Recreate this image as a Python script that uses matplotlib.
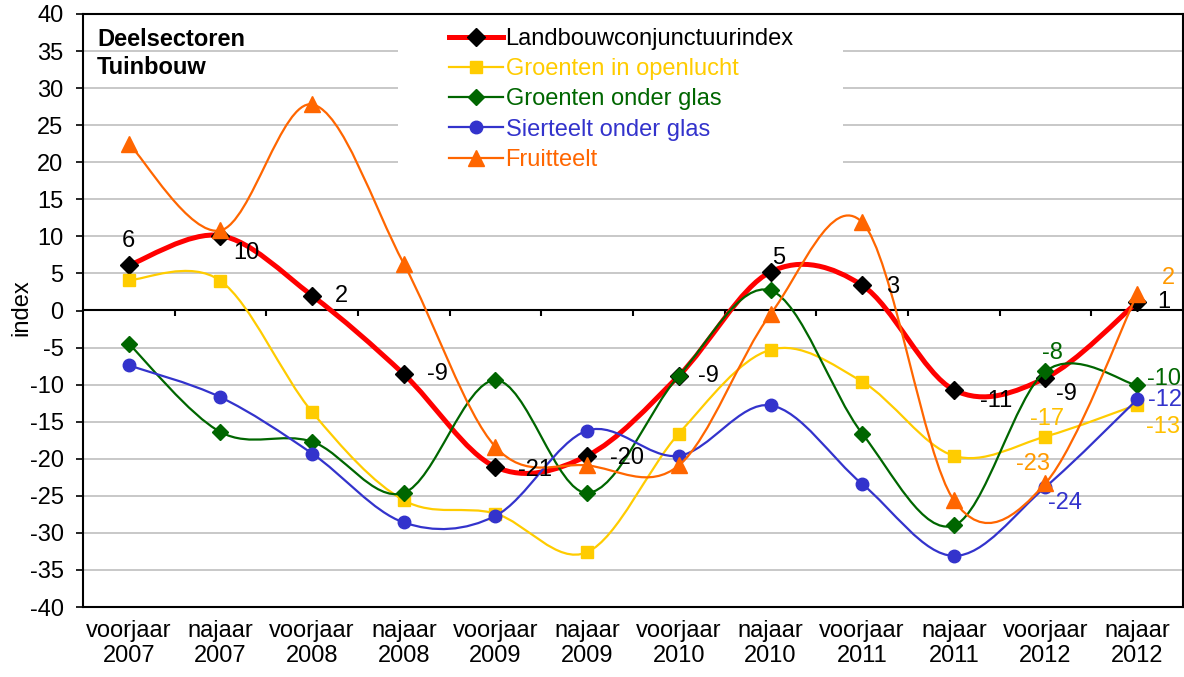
import matplotlib
matplotlib.use("Agg")
import matplotlib.pyplot as plt
from matplotlib.path import Path
from matplotlib.patches import PathPatch, Rectangle
from matplotlib.lines import Line2D
import numpy as np

plt.rcParams['font.family'] = ['Liberation Sans', 'DejaVu Sans']
plt.rcParams['axes.unicode_minus'] = False

categories = ["voorjaar\n2007", "najaar\n2007", "voorjaar\n2008", "najaar\n2008",
              "voorjaar\n2009", "najaar\n2009", "voorjaar\n2010", "najaar\n2010",
              "voorjaar\n2011", "najaar\n2011", "voorjaar\n2012", "najaar\n2012"]

landbouw = [6.1, 10.1, 2.0, -8.6, -21.1, -19.6, -8.8, 5.2, 3.4, -10.7, -9.1, 1.1]
openlucht = [4.1, 4.0, -13.7, -25.6, -27.4, -32.6, -16.6, -5.3, -9.6, -19.6, -17.0, -12.7]
onder_glas = [-4.5, -16.4, -17.7, -24.6, -9.4, -24.6, -8.8, 2.7, -16.6, -29.0, -8.2, -10.1]
sierteelt = [-7.4, -11.7, -19.3, -28.6, -27.7, -16.2, -19.6, -12.8, -23.4, -33.1, -23.8, -12.0]
fruitteelt = [22.5, 10.8, 27.8, 6.3, -18.4, -20.9, -20.9, -0.5, 11.9, -25.6, -23.3, 2.2]

series_names = ["Landbouwconjunctuurindex", "Groenten in openlucht",
                "Groenten onder glas", "Sierteelt onder glas", "Fruitteelt"]

fig = plt.figure(figsize=(11.84, 6.77), dpi=100)
ax = fig.add_axes([83/1184, 1-607/677, 1100/1184, 593/677])

x = np.arange(len(categories))


def smooth_path(xs, ys):
    xs = list(xs); ys = list(ys)
    n = len(xs)
    verts = [(xs[0], ys[0])]
    codes = [Path.MOVETO]
    for i in range(n - 1):
        x0, y0 = (xs[i-1], ys[i-1]) if i > 0 else (xs[i], ys[i])
        x3, y3 = (xs[i+2], ys[i+2]) if i + 2 < n else (xs[i+1], ys[i+1])
        c1 = (xs[i] + (xs[i+1] - x0) / 6, ys[i] + (ys[i+1] - y0) / 6)
        c2 = (xs[i+1] - (x3 - xs[i]) / 6, ys[i+1] - (y3 - ys[i]) / 6)
        verts += [c1, c2, (xs[i+1], ys[i+1])]
        codes += [Path.CURVE4] * 3
    return Path(verts, codes)


styles = [
    dict(data=landbouw, lc='#FF0000', lw=3.6, marker='D', mc='black', ms=9),
    dict(data=openlucht, lc='#FFCC00', lw=1.6, marker='s', mc='#FFCC00', ms=9),
    dict(data=onder_glas, lc='#006600', lw=1.6, marker='D', mc='#006600', ms=8),
    dict(data=sierteelt, lc='#3333CC', lw=1.6, marker='o', mc='#3333CC', ms=9),
    dict(data=fruitteelt, lc='#FF6600', lw=1.6, marker='^', mc='#FF6600', ms=11),
]

handles = []
for k, st in enumerate(styles):
    z = 3 + k
    patch = PathPatch(smooth_path(x, st['data']), fill=False, edgecolor=st['lc'],
                      lw=st['lw'], zorder=z, capstyle='round', joinstyle='round')
    ax.add_patch(patch)
    ax.plot(x, st['data'], linestyle='none', marker=st['marker'], ms=st['ms'],
            mfc=st['mc'], mec=st['mc'], zorder=z + 0.5)
    handles.append(Line2D([], [], color=st['lc'], lw=st['lw'], marker=st['marker'],
                          ms=st['ms'], mfc=st['mc'], mec=st['mc']))

# data labels: (series index, point index, offset px (dx, dy), ha, color)
label_specs = [
    (0, 0, (0, 24), 'center', 'black'),
    (0, 1, (13, -17), 'left', 'black'),
    (0, 2, (23, 0), 'left', 'black'),
    (0, 3, (23, 0), 'left', 'black'),
    (0, 4, (23, -3), 'left', 'black'),
    (0, 5, (23, -2), 'left', 'black'),
    (0, 6, (19, 0), 'left', 'black'),
    (0, 7, (8, 14), 'center', 'black'),
    (0, 8, (24, -2), 'left', 'black'),
    (0, 9, (26, -11), 'left', 'black'),
    (0, 10, (11, -16), 'left', 'black'),
    (0, 11, (20, 0), 'left', 'black'),
    (2, 10, (7, 18), 'center', '#006600'),
    (2, 11, (10, 6), 'left', '#006600'),
    (3, 10, (3, -16), 'left', '#3333CC'),
    (3, 11, (11, -1), 'left', '#3333CC'),
    (1, 10, (2, 18), 'center', '#FFC000'),
    (1, 11, (9, -22), 'left', '#FFC000'),
    (4, 10, (-12, 19), 'center', '#FF9900'),
    (4, 11, (25, 16), 'left', '#FF9900'),
]
for si, pi, (dx, dy), ha, col in label_specs:
    val = styles[si]['data'][pi]
    ax.annotate(f"{int(round(val))}", (x[pi], val), xytext=(dx * 0.72, dy * 0.72),
                textcoords='offset points', ha=ha, va='center', fontsize=17,
                color=col, zorder=20)

ax.set_xlim(-0.5, len(categories) - 0.5)
ax.set_ylim(-40, 40)
ax.set_yticks(np.arange(-40, 41, 5))
ax.tick_params(axis='y', direction='out', length=5, width=1.2, labelsize=17, pad=9)
ax.set_xticks(x)
ax.set_xticklabels(categories, fontsize=17, linespacing=1.2)
ax.tick_params(axis='x', length=0, pad=9)
ax.set_ylabel("index", fontsize=17)
ax.yaxis.set_label_coords((32 - 83) / 1100, (607 - 308) / 593)
for sp in ax.spines.values():
    sp.set_linewidth(1.5)
    sp.set_color('black')

for yv in np.arange(-35, 40, 5):
    if yv != 0:
        ax.axhline(yv, color='#BFBFBF', lw=1.2, zorder=1)

# zero axis with category tick marks
secax = ax.secondary_xaxis(0.5)
secax.set_alignment('bottom')
secax.set_xticks(np.arange(0.5, len(categories) - 1, 1.0))
secax.tick_params(axis='x', direction='out', length=4, width=1.5, labelbottom=False, labeltop=False)
secax.spines['bottom'].set_linewidth(1.5)

# white legend background
ax.add_patch(Rectangle(((398-83)/1100, 1-(185-14)/593), (843-398)/1100, (185-14)/593,
                       transform=ax.transAxes, facecolor='white', edgecolor='none', zorder=2))

leg = ax.legend(handles, series_names, loc='upper left',
                bbox_to_anchor=((430-83)/1100, 1.0 + 5/593), frameon=False, fontsize=17,
                handlelength=2.3, handletextpad=0.1, labelspacing=0.35, borderpad=0.3)
leg.set_zorder(25)
for t, st in zip(leg.get_texts(), styles):
    t.set_color('black' if st['lc'] == '#FF0000' else st['lc'])

ax.text((97-83)/1100, 1 - 14/593, "Deelsectoren\nTuinbouw", transform=ax.transAxes,
        ha='left', va='top', fontsize=17, fontweight='bold', linespacing=1.3, zorder=20)

fig.savefig("out.png", dpi=100)
